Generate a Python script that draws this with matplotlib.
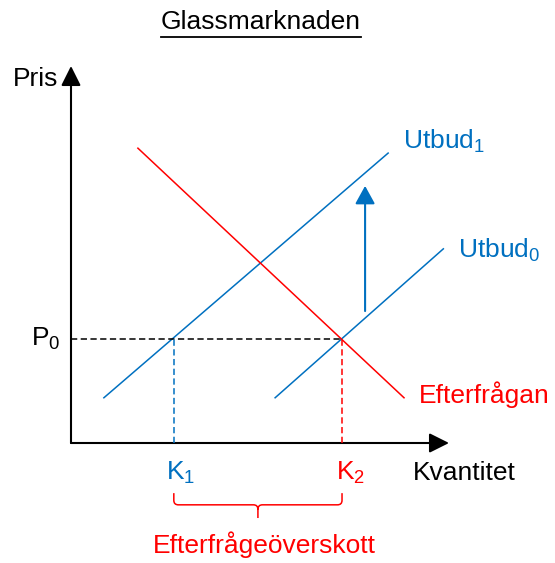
import matplotlib
matplotlib.use("Agg")
import matplotlib.pyplot as plt
from matplotlib.patches import FancyArrowPatch, PathPatch
from matplotlib.path import Path
from matplotlib.lines import Line2D

# curve end points (quantity, price)
supply0_q = [5.4, 9.85]
supply0_p = [1.2, 5.15]
supply1_q = [0.87, 8.39]
supply1_p = [1.2, 7.69]
demand_q = [1.77, 8.81]
demand_p = [7.82, 1.2]

p0 = 2.76
k1 = 2.72
k2 = 7.17
shift_q = 7.78
shift_p = [3.5, 6.82]

BLUE = "#0070C0"
RED = "#FF0000"

plt.rcParams["font.family"] = ["Liberation Sans", "DejaVu Sans"]
plt.rcParams["mathtext.fontset"] = "custom"
plt.rcParams["mathtext.rm"] = "Liberation Sans"
plt.rcParams["lines.scale_dashes"] = False

W, H = 555, 563
fig = plt.figure(figsize=(W / 100, H / 100), dpi=100)
ax = fig.add_axes([71 / W, (H - 443) / H, 378 / W, 377 / H])
ax.set_xlim(0, 10)
ax.set_ylim(0, 10)
ax.axis("off")

fs = 19

# axes with arrows
for end in [(10, 0), (0, 10)]:
    arr = FancyArrowPatch((0, 0), end, arrowstyle="-|>,head_length=1.0,head_width=0.5",
                          mutation_scale=12, color="black", lw=1.5,
                          shrinkA=0, shrinkB=0, clip_on=False)
    ax.add_patch(arr)

# curves
ax.plot(supply1_q, supply1_p, color=BLUE, lw=1.1, clip_on=False)
ax.plot(supply0_q, supply0_p, color=BLUE, lw=1.1, clip_on=False)
ax.plot(demand_q, demand_p, color=RED, lw=1.1, clip_on=False)

# dashed guides
ax.plot([0, k2], [p0, p0], color="black", lw=1.1, dashes=(4.5, 2.5))
ax.plot([k1, k1], [0, p0], color=BLUE, lw=1.1, dashes=(4.5, 2.5))
ax.plot([k2, k2], [0, p0], color=RED, lw=1.1, dashes=(4.5, 2.5))

# supply shift arrow
shift = FancyArrowPatch((shift_q, shift_p[0]), (shift_q, shift_p[1]),
                        arrowstyle="-|>,head_length=1.0,head_width=0.55",
                        mutation_scale=11, color=BLUE, lw=1.5,
                        shrinkA=0, shrinkB=0, clip_on=False)
ax.add_patch(shift)

# labels
ax.text(-0.35, 9.65, "Pris", fontsize=fs, ha="right", va="center")
ax.text(-0.27, p0, r"P$_\mathrm{0}$", fontsize=fs, ha="right", va="center")
ax.text(k1 - 0.22, -0.78, r"K$_\mathrm{1}$", fontsize=fs, ha="left", va="center", color=BLUE)
ax.text(k2 - 0.15, -0.78, r"K$_\mathrm{2}$", fontsize=fs, ha="left", va="center", color=RED)
ax.text(9.05, -0.8, "Kvantitet", fontsize=fs, ha="left", va="center")
ax.text(8.78, 8.0, r"Utbud$_\mathrm{1}$", fontsize=fs, ha="left", va="center", color=BLUE)
ax.text(10.25, 5.1, r"Utbud$_\mathrm{0}$", fontsize=fs, ha="left", va="center", color=BLUE)
ax.text(9.2, 1.27, "Efterfrågan", fontsize=fs, ha="left", va="center", color=RED)
ax.text((k1 + k2) / 2 + 0.18, -2.7, "Efterfrågeöverskott", fontsize=fs, ha="center",
        va="center", color=RED)

# curly brace between K1 and K2
mid = (k1 + k2) / 2
top, bar, tip, r = -1.33, -1.64, -1.99, 0.12
verts = [(k1, top), (k1, bar + r), (k1, bar), (k1 + r, bar),
         (mid - r, bar), (mid, bar), (mid, bar - r), (mid, tip),
         (mid, bar - r), (mid, bar), (mid + r, bar),
         (k2 - r, bar), (k2, bar), (k2, bar + r), (k2, top)]
codes = [Path.MOVETO, Path.LINETO, Path.CURVE3, Path.CURVE3,
         Path.LINETO, Path.CURVE3, Path.CURVE3, Path.LINETO,
         Path.MOVETO, Path.CURVE3, Path.CURVE3,
         Path.LINETO, Path.CURVE3, Path.CURVE3, Path.LINETO]
ax.add_patch(PathPatch(Path(verts, codes), fill=False, edgecolor=RED, lw=1.1, clip_on=False))

# underlined title
title = fig.text(261 / W, 1 - 22 / H, "Glassmarknaden", fontsize=fs, ha="center", va="center")
fig.canvas.draw()
bb = title.get_window_extent()
y_line = (H - 37) / H
fig.add_artist(Line2D([bb.x0 / W, bb.x1 / W], [y_line, y_line], color="black", lw=1.3))

fig.savefig("out.png", dpi=100)
